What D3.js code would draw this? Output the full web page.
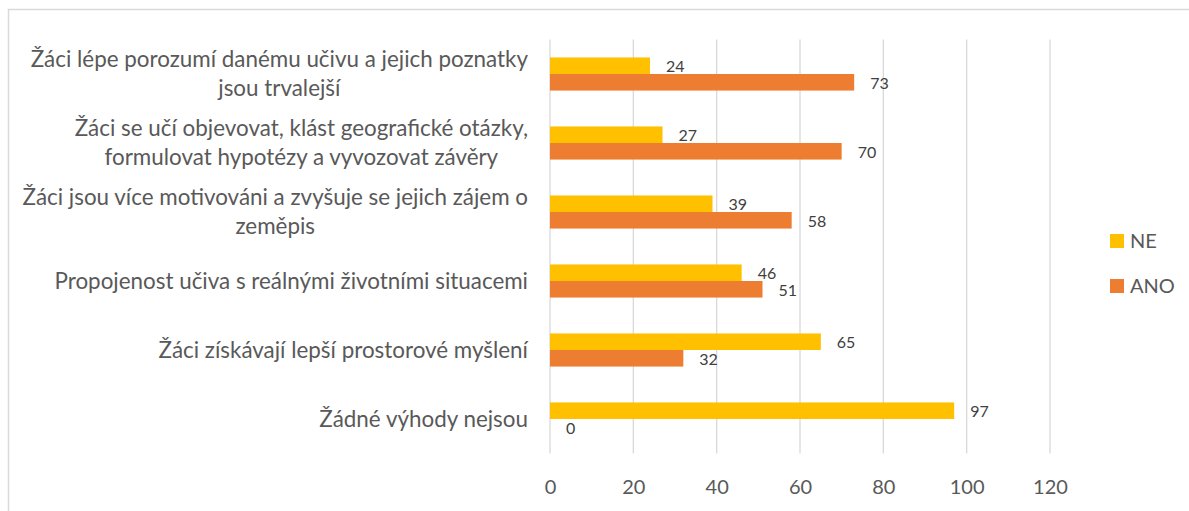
<!DOCTYPE html>
<html>
<head>
<meta charset="utf-8">
<script src="https://cdn.jsdelivr.net/npm/d3@7"></script>
<style>
    body { margin: 0; background: #fff; }
    svg { display: block; }
</style>
</head>
<body>
<div id="chart"></div>
<script>
    var categories = [
        "Žáci lépe porozumí danému učivu a jejich poznatky\njsou trvalejší",
        "Žáci se učí objevovat, klást geografické otázky,\nformulovat hypotézy a vyvozovat závěry",
        "Žáci jsou více motivováni a zvyšuje se jejich zájem o\nzeměpis",
        "Propojenost učiva s reálnými životními situacemi",
        "Žáci získávají lepší prostorové myšlení",
        "Žádné výhody nejsou"
    ];
    var seriesNames = ["NE", "ANO"];
    var neValues = [24, 27, 39, 46, 65, 97];
    var anoValues = [73, 70, 58, 51, 32, 0];
    var xTicks = [0, 20, 40, 60, 80, 100, 120];

    var width = 1189;
    var height = 511;
    var margin = {top: 39.5, right: 139, bottom: 57.5, left: 550};
    var colors = {NE: "#FFC000", ANO: "#ED7D31"};
    var font = "Lato, 'Open Sans', sans-serif";

    var svg = d3.select("#chart").append("svg")
        .attr("width", width)
        .attr("height", height)
        .style("font-family", font);

    // chart border
    svg.append("rect")
        .attr("x", 8.5)
        .attr("y", 9.5)
        .attr("width", width + 20)
        .attr("height", height + 20)
        .attr("fill", "none")
        .attr("stroke", "#D9D9D9")
        .attr("stroke-width", 1.5);

    var xScale = d3.scaleLinear()
        .domain([0, 120])
        .range([margin.left, width - margin.right]);

    var yScale = d3.scaleBand()
        .domain(categories)
        .range([margin.top, height - margin.bottom])
        .paddingInner(0.52)
        .paddingOuter(0.26);

    var subScale = d3.scaleBand()
        .domain(seriesNames)
        .range([0, yScale.bandwidth()]);

    // gridlines
    svg.append("g")
        .selectAll("line")
        .data(xTicks)
        .enter().append("line")
        .attr("x1", d => xScale(d))
        .attr("x2", d => xScale(d))
        .attr("y1", margin.top)
        .attr("y2", height - margin.bottom)
        .attr("stroke", "#D9D9D9")
        .attr("stroke-width", 1.3);

    var xAxis = d3.axisBottom()
        .scale(xScale)
        .tickValues(xTicks)
        .tickSize(0)
        .tickPadding(0);

    var xg = svg.append("g")
        .attr("transform", "translate(0," + (height - margin.bottom) + ")")
        .call(xAxis);
    xg.select(".domain").remove();
    xg.selectAll("text")
        .attr("y", 33.5)
        .attr("dy", "0.36em")
        .style("font-family", font)
        .style("font-size", "20px")
        .attr("fill", "#595959");

    // build rows of data
    var rows = categories.map((c, i) => ({cat: c, NE: neValues[i], ANO: anoValues[i]}));

    var groups = svg.selectAll(".group")
        .data(rows)
        .enter().append("g")
        .attr("class", "group")
        .attr("transform", d => "translate(0," + yScale(d.cat) + ")");

    seriesNames.forEach(function(s) {
        groups.append("rect")
            .attr("x", xScale(0))
            .attr("y", subScale(s))
            .attr("width", d => xScale(d[s]) - xScale(0))
            .attr("height", subScale.bandwidth())
            .attr("fill", colors[s]);

        groups.append("text")
            .attr("x", d => xScale(d[s]) + 16)
            .attr("y", subScale(s) + subScale.bandwidth() / 2 + 1)
            .attr("dy", "0.35em")
            .style("font-size", "16px")
            .attr("fill", "#404040")
            .text(d => d[s]);
    });

    // category labels, multi line blocks centered, right aligned at the axis
    var labelRight = 528;
    var lineHeight = 29;
    categories.forEach(function(c) {
        var lines = c.split("\n");
        var g = svg.append("g");
        var texts = g.selectAll("text")
            .data(lines)
            .enter().append("text")
            .attr("text-anchor", "middle")
            .style("font-size", "22.4px")
            .attr("fill", "#595959")
            .text(d => d);
        var maxW = d3.max(texts.nodes(), n => n.getComputedTextLength());
        var cy = yScale(c) + yScale.bandwidth() / 2;
        var y0 = cy - (lines.length - 1) * lineHeight / 2;
        texts.attr("x", labelRight - maxW / 2)
            .attr("y", (d, i) => y0 + i * lineHeight)
            .attr("dy", "0.35em");
    });

    // legend
    var legend = svg.selectAll(".legend")
        .data(seriesNames)
        .enter().append("g")
        .attr("class", "legend")
        .attr("transform", (d, i) => "translate(1110," + (234 + i * 45) + ")");

    legend.append("rect")
        .attr("width", 14)
        .attr("height", 14)
        .attr("fill", d => colors[d]);

    legend.append("text")
        .attr("x", 20)
        .attr("y", 7)
        .attr("dy", "0.36em")
        .style("font-size", "20px")
        .attr("fill", "#595959")
        .text(d => d);
</script>
</body>
</html>
